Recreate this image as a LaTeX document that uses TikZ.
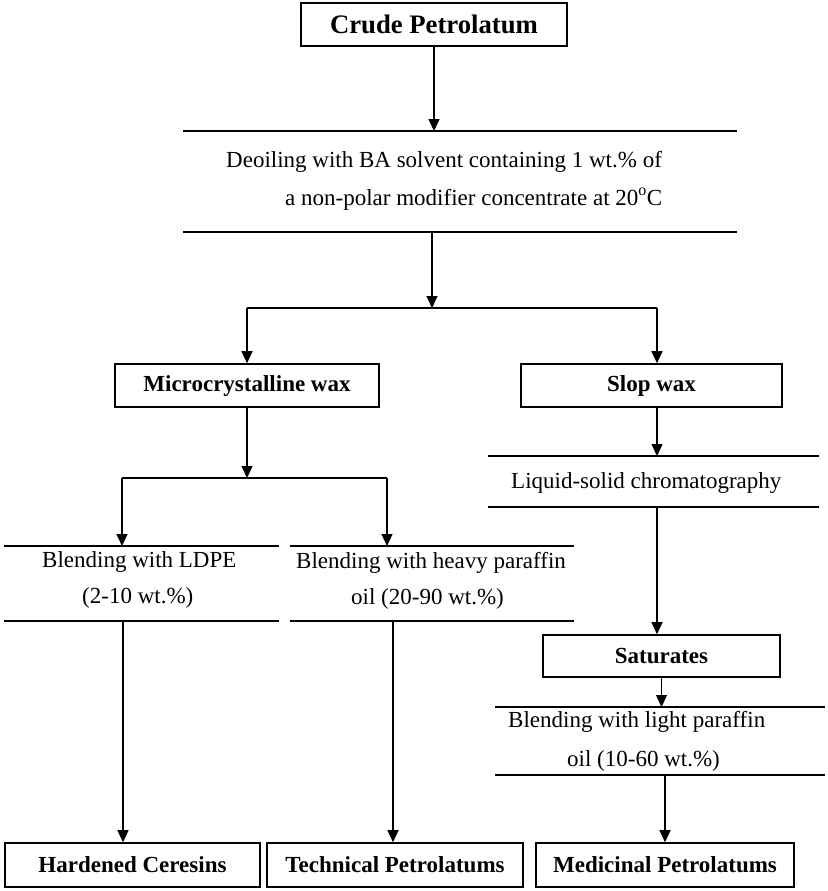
\documentclass[tikz,border=0pt]{standalone}
\usepackage{fontspec}
\setmainfont{Liberation Serif}
\usetikzlibrary{arrows.meta,calc}
\begin{document}
\begin{tikzpicture}[x=1pt,y=-1pt,
  boxnode/.style={draw,line width=1.6pt,rectangle,inner sep=0pt,font=\fontsize{23}{27}\selectfont\bfseries},
  procnode/.style={rectangle,inner sep=0pt,outer sep=0pt},
  txt/.style={anchor=base west,inner sep=0pt,font=\fontsize{23}{27}\selectfont},
  rule/.style={line width=1.6pt},
  conn/.style={line width=1.3pt},
  arr/.style={line width=1.3pt,-{Triangle[width=11pt,length=12pt]}}]
\useasboundingbox (0,0) rectangle (827,891);

% boxes
\node[boxnode,minimum width=266pt,minimum height=43pt,font=\fontsize{26.7}{30}\selectfont\bfseries] (crude) at (434,24.5) {Crude Petrolatum};
\node[boxnode,minimum width=264pt,minimum height=43pt] (micro) at (247,385.5) {Microcrystalline wax};
\node[boxnode,minimum width=261pt,minimum height=43pt] (slop) at (651.5,385.5) {Slop wax};
\node[boxnode,minimum width=237pt,minimum height=42pt] (sat) at (661.5,656) {Saturates};
\node[boxnode,minimum width=255pt,minimum height=44pt] (hard) at (132.5,865) {Hardened Ceresins};
\node[boxnode,minimum width=256pt,minimum height=44pt] (tech) at (395,865) {Technical Petrolatums};
\node[boxnode,minimum width=258pt,minimum height=44pt] (med) at (665,865) {Medicinal Petrolatums};

% process bands (ruled above and below)
\node[procnode,minimum width=554pt,minimum height=101pt] (p1) at (460,181.5) {};
\node[procnode,minimum width=275pt,minimum height=75pt] (p2) at (141.5,583.5) {};
\node[procnode,minimum width=284.5pt,minimum height=75pt] (p3) at (431.75,583.5) {};
\node[procnode,minimum width=331pt,minimum height=51pt] (p4) at (653.5,481.5) {};
\node[procnode,minimum width=330pt,minimum height=68pt] (p5) at (660,741) {};
\foreach \p in {p1,p2,p3,p4,p5}{
  \draw[rule] (\p.north west) -- (\p.north east);
  \draw[rule] (\p.south west) -- (\p.south east);
}

% process texts
\node[txt] (t1a) at (226,167) {Deoiling with BA solvent containing 1 wt.\% of};
\node[txt] (t1b) at (285,205) {a non-polar modifier concentrate at 20\textsuperscript{o}C};
\node[txt] (t2a) at (42,567) {Blending with LDPE};
\node[txt] (t2b) at (82,603) {(2-10 wt.\%)};
\node[txt] (t3a) at (296,568) {Blending with heavy paraffin};
\node[txt] (t3b) at (351,604) {oil (20-90 wt.\%)};
\node[txt] (t4) at (511,488) {Liquid-solid chromatography};
\node[txt] (t5a) at (508,727) {Blending with light paraffin};
\node[txt] (t5b) at (567,766) {oil (10-60 wt.\%)};

% helper coordinates
\coordinate (b1) at (432,308);
\coordinate (sx) at (657,0);
\coordinate (b2) at (247,478);
\coordinate (l2) at (122,478);
\coordinate (r2) at (387,478);
\coordinate (l3) at (123,0);
\coordinate (r3) at (393,0);

% connectors
\draw[arr] (crude.south) -- (crude.south |- p1.north);
\draw[arr] (b1 |- p1.south) -- (b1);
\draw[conn] (micro.north |- b1) -- (sx |- b1);
\draw[arr] (micro.north |- b1) -- (micro.north);
\draw[arr] (sx |- b1) -- (sx |- slop.north);

\draw[arr] (micro.south) -- (b2);
\draw[conn] (l2) -- (r2);
\draw[arr] (l2) -- (l2 |- p2.north);
\draw[arr] (r2) -- (r2 |- p3.north);
\draw[arr] (l3 |- p2.south) -- (l3 |- hard.north);
\draw[arr] (r3 |- p3.south) -- (r3 |- tech.north);

\draw[arr] (sx |- slop.south) -- (sx |- p4.north);
\draw[arr] (sx |- p4.south) -- (sx |- sat.north);
\draw[arr] (sat.south) -- (sat.south |- p5.north);
\draw[arr] (med.north |- p5.south) -- (med.north);
\end{tikzpicture}
\end{document}
